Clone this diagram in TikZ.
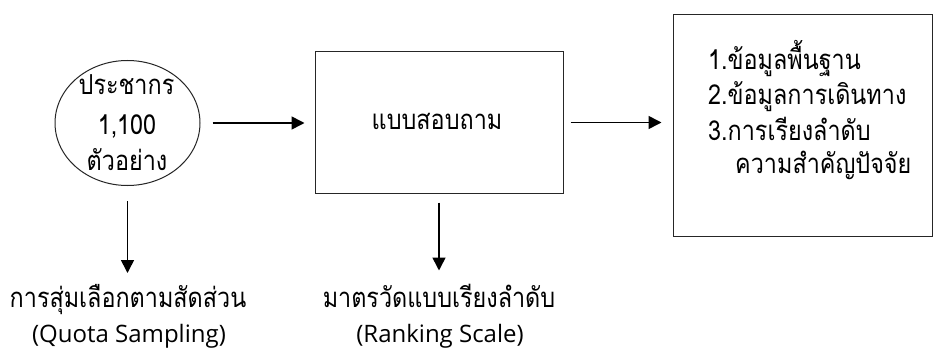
\documentclass[tikz,border=0pt]{standalone}
\usepackage{fontspec}
\setmainfont[Script=Thai, FakeStretch=0.85]{Loma}
\newfontfamily\latinfont{Open Sans}
\usetikzlibrary{arrows.meta,shapes.geometric}
\begin{document}
\begin{tikzpicture}[x=1pt,y=-1pt,
  every node/.style={font=\fontsize{27.5}{30}\selectfont, inner sep=0pt},
  lat/.style={font=\latinfont\fontsize{24}{30}\selectfont},
  boxst/.style={draw=black!85, line width=1pt},
  arr/.style={line width=1.6pt, -{Triangle[length=13pt,width=13pt]}}]
\useasboundingbox (0,0) rectangle (934,350);
\node[boxst, ellipse, minimum width=145pt, minimum height=125pt] (circ) at (127.5,123) {};
\node[anchor=base] (c1) at (126.5,95) {ประชากร};
\node[anchor=base] (c2) at (127,135) {1,100};
\node[anchor=base] (c3) at (127,170) {ตัวอย่าง};
\node[boxst, minimum width=248pt, minimum height=141pt] (box) at (439,122.5) {};
\node[anchor=base] (btext) at (437,130) {แบบสอบถาม};
\node[boxst, minimum width=259pt, minimum height=221pt] (rbox) at (802.5,125.5) {};
\node[anchor=base west] (r1) at (708,70) {1.ข้อมูลพื้นฐาน};
\node[anchor=base west] (r2) at (708,105) {2.ข้อมูลการเดินทาง};
\node[anchor=base west] (r3) at (708,140) {3.การเรียงลำดับ};
\node[anchor=base west] (r4) at (735,173) {ความสำคัญปัจจัย};
\node[anchor=base] (l1) at (128,307) {การสุ่มเลือกตามสัดส่วน};
\node[anchor=base, lat] (l1b) at (129,342) {(Quota Sampling)};
\node[anchor=base] (l2) at (439,307) {มาตรวัดแบบเรียงลำดับ};
\node[anchor=base, lat] (l2b) at (440,342) {(Ranking Scale)};
\draw[arr, shorten <=12pt, shorten >=10pt] (circ.east) -- (circ.east -| box.west);
\draw[arr, shorten <=7pt, shorten >=11pt] (box.east) -- (box.east -| rbox.west);
\draw[arr, shorten <=15pt] (circ.south) -- ++(0,87) coordinate (a1end);
\draw[arr, shorten <=9pt] (box.south) -- ++(0,77) coordinate (a2end);
\end{tikzpicture}
\end{document}
